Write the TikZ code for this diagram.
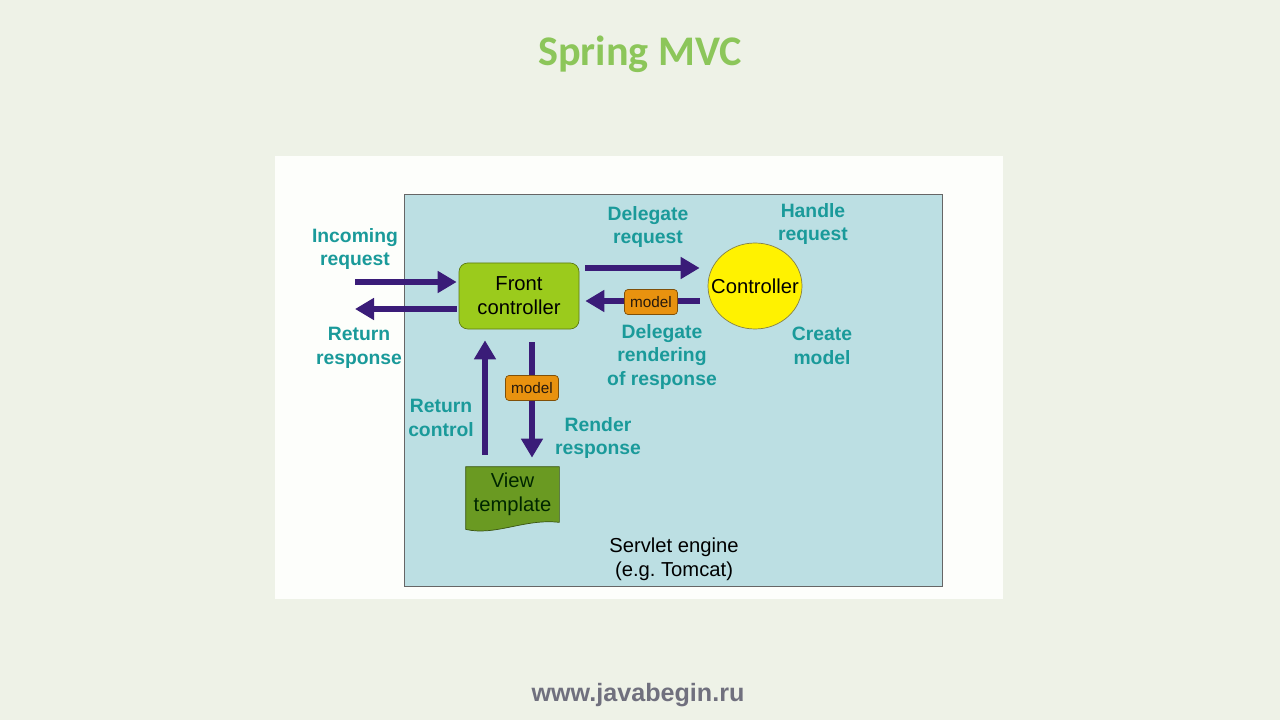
\documentclass[tikz,border=0pt]{standalone}
\usepackage{fontspec}
\setmainfont{Liberation Sans}
\newfontfamily\titlefont{Carlito}
\usetikzlibrary{arrows.meta, positioning, shapes.geometric, backgrounds, calc}
\definecolor{colBg}{HTML}{EEF2E7}
\definecolor{colPanel}{HTML}{FDFEFB}
\definecolor{colEngine}{HTML}{BCDFE3}
\definecolor{colTeal}{HTML}{1A9A9A}
\definecolor{colPurple}{HTML}{3A1C78}
\definecolor{colFront}{HTML}{9BCB1C}
\definecolor{colView}{HTML}{6A9A22}
\definecolor{colModel}{HTML}{E8920F}
\definecolor{colTitle}{HTML}{8CC65A}
\definecolor{colSite}{HTML}{70707E}
\tikzset{
  % Teal step labels
  lbl/.style={
    text=colTeal, align=center, inner sep=0pt,
    font=\fontsize{11}{13.6}\selectfont\bfseries,
  },
  % Plain text inside shapes
  plain/.style={align=center, font=\fontsize{11.5}{13.6}\selectfont},
  % Servlet engine area
  engine/.style={
    draw=black!60, fill=colEngine, thin,
    minimum width=107.6mm, minimum height=78.4mm,
  },
  % Front controller box
  fbox/.style={
    plain, draw=colFront!60!black, fill=colFront, thin,
    rounded corners=5pt,
    minimum width=24mm, minimum height=13.2mm,
  },
  % Controller circle
  ctrl/.style={
    plain, ellipse, draw=yellow!45!black, fill=yellow, thin,
    minimum width=18.8mm, minimum height=17.2mm, inner sep=0pt,
  },
  % View template document
  vbox/.style={
    plain, text=black!85!green,
    minimum width=18.6mm, minimum height=11mm,
  },
  vshape/.style={draw=colView!55!black, fill=colView, thin},
  % Model tags on arrows
  mdl/.style={
    draw=colModel!55!black, fill=colModel, thin, rounded corners=2pt,
    minimum width=10.6mm, minimum height=5mm, inner sep=0pt,
    text=black!80!brown,
    font=\fontsize{8.7}{10}\selectfont,
  },
  % Arrows
  arr/.style={-{Triangle[length=3.8mm,width=4.2mm]}, line width=1.25mm, colPurple},
}

\begin{document}
\begin{tikzpicture}[x=0.2mm, y=-0.2mm]
\useasboundingbox (0,0) rectangle (1280,720);

%% slide background, white panel and servlet engine area
\begin{scope}[on background layer]
  \fill[colBg] (0,0) rectangle (1280,720);
  \fill[colPanel] (275,156) rectangle (1003,599);
  \node[engine] (engine) at (673,390) {};
\end{scope}

\node[font=\titlefont\fontsize{24}{28}\selectfont\bfseries, text=colTitle]
  (title) at (640,54) {Spring MVC};
\node[font=\fontsize{14.3}{16}\selectfont\bfseries, text=colSite]
  (site) at (638,695) {www.javabegin.ru};

%% main shapes
\node[fbox] (front) at (519,296) {Front\\controller};
\node[ctrl] (ctrl) at (755,286) {\makebox[0pt]{Controller}};
\node[vbox] (view) at (512.5,494.5) {View\\template};

\begin{scope}[on background layer]
  \draw[vshape] (view.north west) -- (view.north east) -- (view.south east)
    .. controls ($(view.south east)+(-35,-4)$) and ($(view.south west)+(30,14)$)
    .. ($(view.south west)+(0,7)$) -- cycle;
\end{scope}

\node[plain] (srv) at (674,559) {Servlet engine\\(e.g.\ Tomcat)};

%% arrows
\coordinate (inEnd) at (355,282);
\coordinate (outEnd) at (355,309);
\coordinate (dreq) at (0,268);
\coordinate (drend) at (0,301);
\coordinate (rc) at (485,0);
\coordinate (rr) at (532,0);

\draw[arr, shorten >=0.4mm] (inEnd) -- (inEnd -| front.west);
\draw[arr, shorten <=0.4mm] (outEnd -| front.west) -- (outEnd);
\draw[arr, shorten <=1.2mm, shorten >=1.6mm] (dreq -| front.east) -- (dreq -| ctrl.west);
\draw[arr, shorten <=1.6mm, shorten >=1.2mm] (drend -| ctrl.west) -- (drend -| front.east);
\draw[arr, shorten <=2.4mm, shorten >=2.2mm] (rc |- view.north) -- (rc |- front.south);
\draw[arr, shorten <=2.6mm, shorten >=1.8mm] (rr |- front.south) -- (rr |- view.north);

\node[mdl] (m1) at (651,302) {model};
\node[mdl] (m2) at (532,388) {model};

%% step labels
\node[lbl] (incoming) at (355,249) {Incoming\\request};
\node[lbl] (retresp) at (359,348) {Return\\response};
\node[lbl] (delreq) at (648,227) {Delegate\\request};
\node[lbl] (handle) at (813,224) {Handle\\request};
\node[lbl] (delrend) at (662,357) {Delegate\\rendering\\of response};
\node[lbl] (create) at (822,346) {Create\\model};
\node[lbl] (retctl) at (441,418) {Return\\control};
\node[lbl] (render) at (598,438) {Render\\response};

\end{tikzpicture}
\end{document}
